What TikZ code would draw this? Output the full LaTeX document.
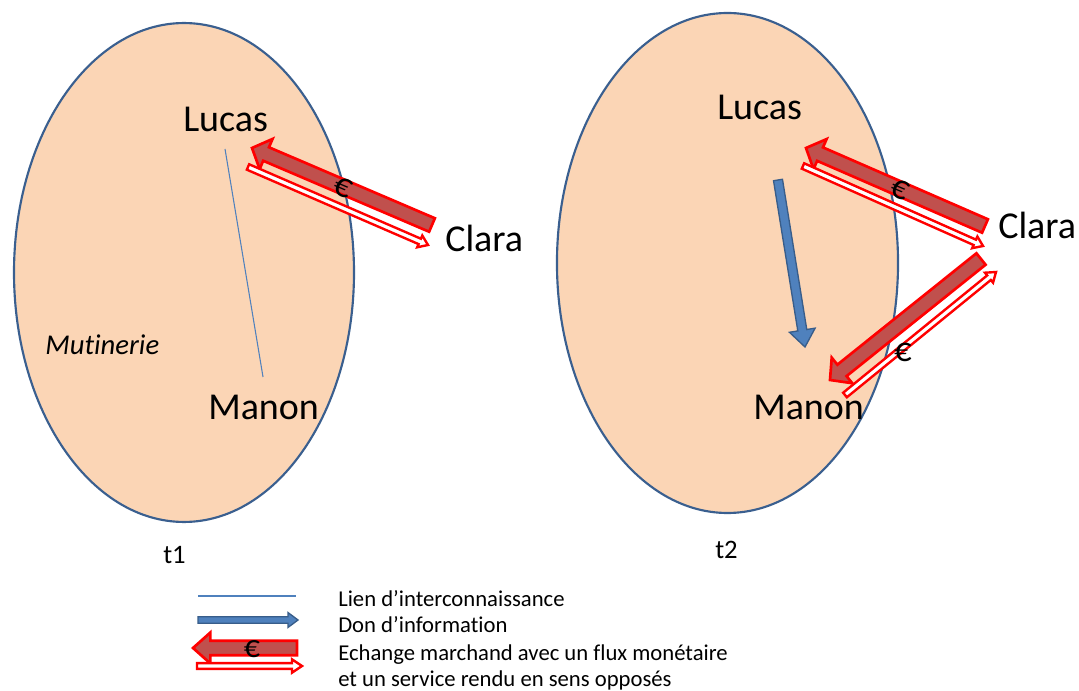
\documentclass[tikz,border=0pt]{standalone}
\usepackage{fontspec}
\setmainfont[Ligatures=NoCommon]{Carlito}
\usepackage{tikz}
\usetikzlibrary{calc}
\tikzset{>=latex}

\definecolor{peche}{HTML}{FBD5B5}
\definecolor{bordure}{HTML}{3A5F8F}
\definecolor{bleu}{HTML}{4F81BD}
\definecolor{bleufonce}{HTML}{385D8A}
\definecolor{brique}{HTML}{C0504D}

% fat arrow: [style]{tail}{tip}{shaft half width}{head half width}{head length}
\newcommand{\fleche}[6][]{%
  \coordinate (fb) at ($(#3)!#6!(#2)$);
  \filldraw[#1] ($(#2)!#4!90:(#3)$) -- ($(fb)!#4!90:(#3)$) -- ($(fb)!#5!90:(#3)$) -- (#3)
    -- ($(fb)!#5!-90:(#3)$) -- ($(fb)!#4!-90:(#3)$) -- ($(#2)!#4!-90:(#3)$) -- cycle;}

\begin{document}
\begin{tikzpicture}[x=0.75pt, y=-0.75pt,
  grp/.style={draw=bordure, fill=peche, line width=1.6pt},
  nom/.style={font=\fontsize{28.5}{34}\selectfont, inner sep=0pt, anchor=base west},
  petit/.style={font=\fontsize{20}{24}\selectfont, inner sep=0pt, anchor=base west},
  legende/.style={font=\fontsize{17}{20}\selectfont, inner sep=0pt, anchor=base west},
  lien/.style={draw=bleu, line width=0.8pt},
  don/.style={fill=bleu, draw=bleufonce, line width=1pt},
  flux/.style={fill=brique, draw=red, line width=2pt},
  service/.style={fill=white, draw=red, line width=1.8pt},
  euro/.style={font=\fontsize{26}{28}\selectfont, inner sep=0pt}]
  \useasboundingbox (0,0) rectangle (1079,691);

  % Groups
  \filldraw[grp] (184,272.5) ellipse [x radius=127.5pt, y radius=187.1pt];
  \filldraw[grp] (727.5,263) ellipse [x radius=127.9pt, y radius=187.5pt];

  % t1
  \node[nom] (lucasA) at (183,132) {Lucas};
  \node[nom] (claraA) at (445,252) {Clara};
  \node[nom] (manonA) at (208,420) {Manon};
  \node[petit, font=\fontsize{21.5}{24}\selectfont\itshape] (mutin) at (45,355) {Mutinerie};
  \node[petit] (tA) at (163,564) {t1};

  \coordinate (lienA1) at (225,149);
  \coordinate (lienA2) at (263,377);
  \draw[lien] (lienA1) -- (lienA2);

  \coordinate (fluxA1) at (432,225);
  \coordinate (fluxA2) at (252,148);
  \coordinate (servA1) at (248,167);
  \coordinate (servA2) at (428,245);
  \fleche[flux]{fluxA1}{fluxA2}{5.5pt}{12.3pt}{11.5pt}
  \fleche[service]{servA1}{servA2}{2.2pt}{4.8pt}{6.75pt}
  \node[euro, rotate=-23] (euroA) at (343,188) {€};

  % t2
  \node[nom] (lucasB) at (717,120) {Lucas};
  \node[nom] (claraB) at (998,239) {Clara};
  \node[nom] (manonB) at (753,420) {Manon};
  \node[petit] (tB) at (715,559) {t2};

  \coordinate (donB1) at (778,180);
  \coordinate (donB2) at (805,347);
  \fleche[don]{donB1}{donB2}{3.4pt}{9.75pt}{12.75pt}

  \coordinate (fluxB1) at (985,226);
  \coordinate (fluxB2) at (806,148);
  \coordinate (servB1) at (803,166);
  \coordinate (servB2) at (983,246);
  \fleche[flux]{fluxB1}{fluxB2}{5.5pt}{12.3pt}{11.5pt}
  \fleche[service]{servB1}{servB2}{2.2pt}{4.8pt}{6.75pt}
  \node[euro, rotate=-23] (euroB) at (900,190) {€};

  \coordinate (fluxC1) at (981,259);
  \coordinate (fluxC2) at (830,380);
  \coordinate (servC1) at (845,395);
  \coordinate (servC2) at (996,272);
  \fleche[flux]{fluxC1}{fluxC2}{5.5pt}{12.3pt}{11.5pt}
  \fleche[service]{servC1}{servC2}{2.2pt}{4.8pt}{6.75pt}
  \node[euro] (euroC) at (903,352) {€};

  % Legend
  \coordinate (leg1a) at (198,596);
  \coordinate (leg1b) at (296,596);
  \draw[lien] (leg1a) -- (leg1b);
  \coordinate (leg2a) at (198,620);
  \coordinate (leg2b) at (298,620);
  \fleche[don]{leg2a}{leg2b}{2.4pt}{5.6pt}{7.5pt}
  \coordinate (leg3a) at (297,648);
  \coordinate (leg3b) at (193,648);
  \fleche[flux]{leg3a}{leg3b}{5.4pt}{11.6pt}{13pt}
  \node[euro, font=\fontsize{24}{26}\selectfont] (euroL) at (252,649) {€};
  \coordinate (leg4a) at (197,666);
  \coordinate (leg4b) at (302,666);
  \fleche[service]{leg4a}{leg4b}{2.2pt}{5pt}{7.5pt}

  \node[legende] (txt1) at (338,607) {Lien d’interconnaissance};
  \node[legende] (txt2) at (338,633) {Don d’information};
  \node[legende] (txt3) at (338,660) {Echange marchand avec un flux monétaire};
  \node[legende] (txt4) at (338,686) {et un service rendu en sens opposés};

\end{tikzpicture}
\end{document}
